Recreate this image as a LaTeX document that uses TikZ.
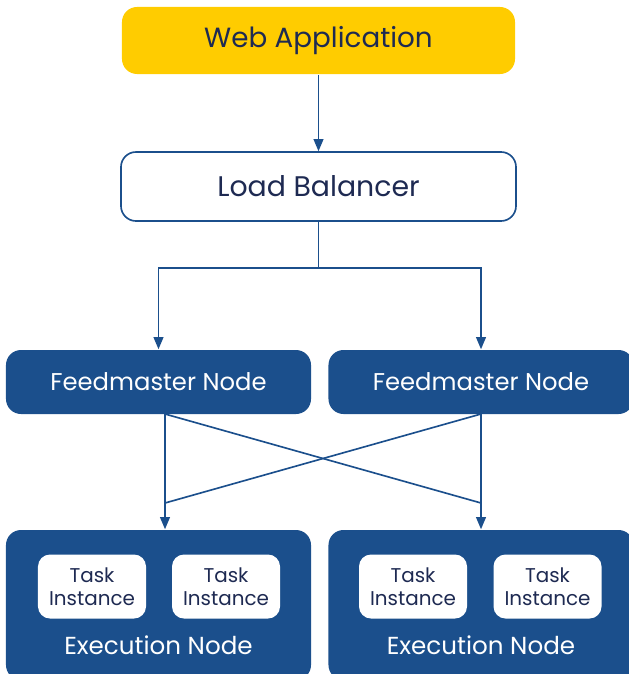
\documentclass[tikz,border=0pt]{standalone}
\usepackage{fontspec}
\setmainfont{Poppins}
\usetikzlibrary{arrows,shapes}
\definecolor{nodeblue}{RGB}{27,79,140}
\definecolor{darktext}{RGB}{30,42,82}
\definecolor{appyellow}{RGB}{255,204,0}

\begin{document}
\begin{tikzpicture}[x=0.03cm,y=-0.03cm,>=triangle 45,line width=1.4pt]
  \tikzstyle{box}=[rectangle,rounded corners=0.45cm,inner sep=0pt]
  \tikzstyle{webapp}=[box,fill=appyellow,text=darktext,
                      minimum width=11.79cm,minimum height=2.01cm,
                      font=\fontsize{23.7}{28}\selectfont]
  \tikzstyle{balancer}=[box,fill=white,draw=nodeblue,text=darktext,
                        minimum width=11.85cm,minimum height=2.07cm,
                        font=\fontsize{24.2}{28}\selectfont]
  \tikzstyle{feedmaster}=[box,fill=nodeblue,text=white,
                          minimum width=9.15cm,minimum height=1.92cm,
                          font=\fontsize{20.7}{24}\selectfont]
  \tikzstyle{execbox}=[box,fill=nodeblue,minimum width=9.15cm,minimum height=4.5cm]
  \tikzstyle{exectext}=[text=white,font=\fontsize{21}{25}\selectfont]
  \tikzstyle{task}=[box,rounded corners=0.36cm,fill=white,text=darktext,
                    minimum width=3.24cm,minimum height=1.92cm,align=center,
                    font=\fontsize{17}{19.5}\selectfont]
  \tikzstyle{link}=[draw=nodeblue]
  \useasboundingbox (0,0) rectangle (629,674);
  \clip (0,0) rectangle (629,674);

  % top
  \node [webapp] (web) at (318.5,40.5) {Web Application};
  \node [balancer] (lb) at (318.5,186.5) {Load Balancer};
  \draw [link,->] (web) -- (lb);

  % feedmaster nodes
  \node [feedmaster] (fm1) at (158.5,382) {Feedmaster Node};
  \node [feedmaster] (fm2) at (481,382) {Feedmaster Node};
  \coordinate (split) at (318.5,268);
  \draw [link] (lb) -- (split);
  \draw [link,->] (split) -| (fm1);
  \draw [link,->] (split) -| (fm2);

  % execution nodes
  \node [execbox] (ex1) at (158.5,605) {};
  \node [execbox] (ex2) at (481,605) {};
  \node [exectext] (ex1label) at (158.5,645) {Execution Node};
  \node [exectext] (ex2label) at (481,645) {Execution Node};
  \node [task] (t1) at (92,586.5) {Task\\Instance};
  \node [task] (t2) at (226,586.5) {Task\\Instance};
  \node [task] (t3) at (413,586.5) {Task\\Instance};
  \node [task] (t4) at (547.5,586.5) {Task\\Instance};

  \coordinate (out1) at (165,414);
  \coordinate (out2) at (481,414);
  \coordinate (join1) at (165,503);
  \coordinate (join2) at (481,503);
  \draw [link,->] (out1) -- (out1 |- ex1.north);
  \draw [link,->] (out2) -- (out2 |- ex2.north);
  \draw [link] (out1) -- (join2);
  \draw [link] (out2) -- (join1);
\end{tikzpicture}
\end{document}
